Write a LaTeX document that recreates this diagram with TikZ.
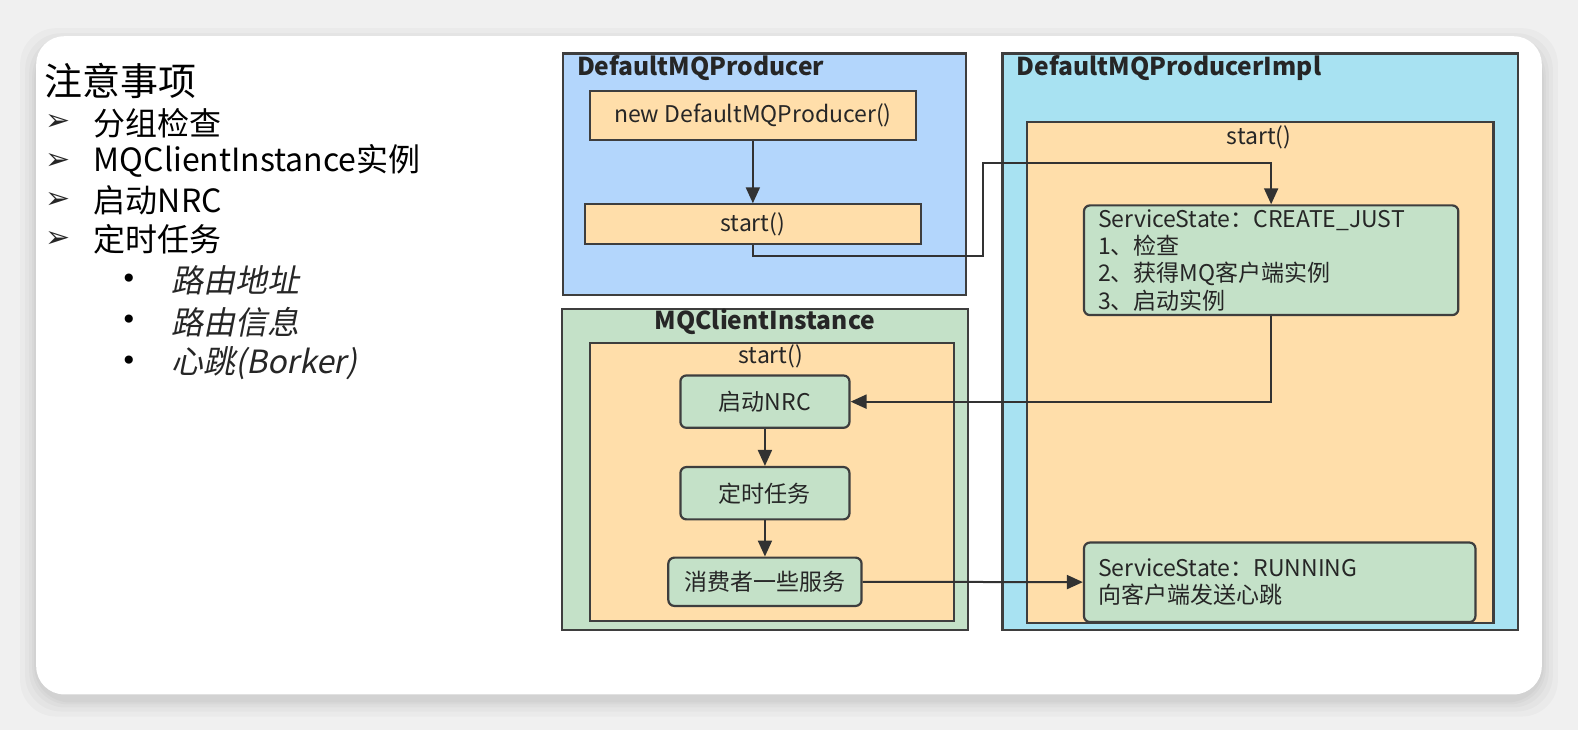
\documentclass[tikz,border=0pt]{standalone}
\usepackage{fontspec}
\setmainfont{Noto Sans CJK SC}
\newfontfamily\slantfont{Noto Sans CJK SC}[FakeSlant=0.2]
\newfontfamily\symbfont{DejaVu Sans}
\usetikzlibrary{arrows.meta}
\definecolor{pagec}{RGB}{240,240,240}
\definecolor{bluep}{RGB}{179,214,252}
\definecolor{cyanp}{RGB}{168,226,242}
\definecolor{mint}{RGB}{196,225,200}
\definecolor{peach}{RGB}{255,222,170}
\definecolor{edgec}{RGB}{62,62,62}
\definecolor{textc}{RGB}{38,38,38}
\newcommand\px{0.5032pt}

\begin{document}
\begin{tikzpicture}[x=\px, y=-\px, text=textc,
    panel/.style={draw=edgec, line width=1.1pt, anchor=north west, inner sep=0pt},
    stepbox/.style={draw=edgec, line width=1.1pt, fill=peach, anchor=north west, inner sep=0pt,
        font=\fontsize{11.5}{13.6}\selectfont},
    statebox/.style={draw=edgec, line width=1.1pt, fill=mint, rounded corners=3pt, anchor=north west,
        inner sep=0pt, font=\fontsize{11.5}{13.6}\selectfont},
    paneltitle/.style={font=\fontsize{12.3}{15}\selectfont\bfseries, inner sep=0pt},
    listitem/.style={anchor=west, inner sep=0pt, font=\fontsize{16}{19}\selectfont, text=black},
    subitem/.style={anchor=west, inner sep=0pt, font=\fontsize{16}{19}\slantfont, text=black!85},
    flow/.style={draw=edgec!80!black, line width=1pt, -{Triangle[length=8pt,width=7pt]}}]
\useasboundingbox (0,0) rectangle (1568,725);
\fill[pagec] (0,0) rectangle (1568,725); % page
\foreach \s in {2,4,7,11,16}
  \fill[black, opacity=0.022, rounded corners=18] (36-\s,36-\s+8) rectangle (1532+\s,690+\s+6); % card shadow
\fill[white, rounded corners=14] (36,36) rectangle (1532,690); % card

% notes on the left
\node[anchor=west, inner sep=0pt, font=\fontsize{19}{22}\selectfont, text=black] (notes) at (44,80) {注意事项};
\node[listitem] (item1) at (93,122) {分组检查};
\node[listitem] (item2) at (93,160) {MQClientInstance实例};
\node[listitem] (item3) at (93,199) {启动NRC};
\node[listitem] (item4) at (93,238) {定时任务};
\foreach \y in {122,160,199,238}
  \node[font=\fontsize{15}{17}\symbfont, text=black!85] at (58,\y) {➢}; % item arrows
\node[subitem] (sub1) at (170,279) {路由地址};
\node[subitem] (sub2) at (170,320) {路由信息};
\node[subitem] (sub3) at (170,361) {心跳(Borker)};
\foreach \y in {279,320,361}
  \node[font=\fontsize{14}{16}\symbfont, text=black] at (128,\y) {•}; % sub bullets

% DefaultMQProducer
\node[panel, fill=bluep, minimum width=401*\px, minimum height=240*\px] (producer) at (558,52) {};
\node[paneltitle, anchor=west] (producertitle) at (573,68) {DefaultMQProducer};
\node[stepbox, minimum width=324*\px, minimum height=49*\px] (newp) at (585,89) {new DefaultMQProducer()};
\node[stepbox, minimum width=334*\px, minimum height=39*\px] (startp) at (580,202) {start()};

% DefaultMQProducerImpl
\node[panel, fill=cyanp, minimum width=512*\px, minimum height=573*\px] (impl) at (995,52) {};
\node[paneltitle, anchor=west] (impltitle) at (1010,68) {DefaultMQProducerImpl};
\node[stepbox, minimum width=464*\px, minimum height=498*\px] (implstart) at (1019,120) {};
\node[font=\fontsize{11.5}{13.6}\selectfont, inner sep=0pt] (implstartlabel) at (1251,136) {start()};
\node[statebox, minimum height=109*\px, text width=344*\px, inner xsep=14*\px, align=left] (cjust) at (1076,203)
  {ServiceState：CREATE\_JUST\\1、检查\\2、获得MQ客户端实例\\3、启动实例};
\node[statebox, minimum height=79*\px, text width=361*\px, inner xsep=14*\px, align=left] (running) at (1076,538)
  {ServiceState：RUNNING\\向客户端发送心跳};

% MQClientInstance
\node[panel, fill=mint, minimum width=404*\px, minimum height=319*\px] (client) at (557,306) {};
\node[paneltitle] (clienttitle) at (760,320) {MQClientInstance};
\node[stepbox, minimum width=362*\px, minimum height=276*\px] (clientstart) at (585,340) {};
\node[font=\fontsize{11.5}{13.6}\selectfont, inner sep=0pt] (clientstartlabel) at (766,354) {start()};
\node[statebox, minimum width=168*\px, minimum height=52*\px] (nrc) at (675,372) {启动NRC};
\node[statebox, minimum width=168*\px, minimum height=52*\px] (timer) at (675,463) {定时任务};
\node[statebox, minimum width=192*\px, minimum height=48*\px] (svc) at (663,553) {消费者一些服务};

% connectors
\draw[flow] (newp) -- (startp); % new -> start
\draw[flow] (startp.south) |- (977,254) -- (977,162) -| (cjust.north); % start -> impl
\draw[flow] (cjust.south) |- (nrc.east); % impl -> nrc
\draw[flow] (nrc) -- (timer); % nrc -> timer
\draw[flow] (timer) -- (svc); % timer -> svc
\draw[flow] (svc) -- (running); % svc -> running
\end{tikzpicture}
\end{document}
